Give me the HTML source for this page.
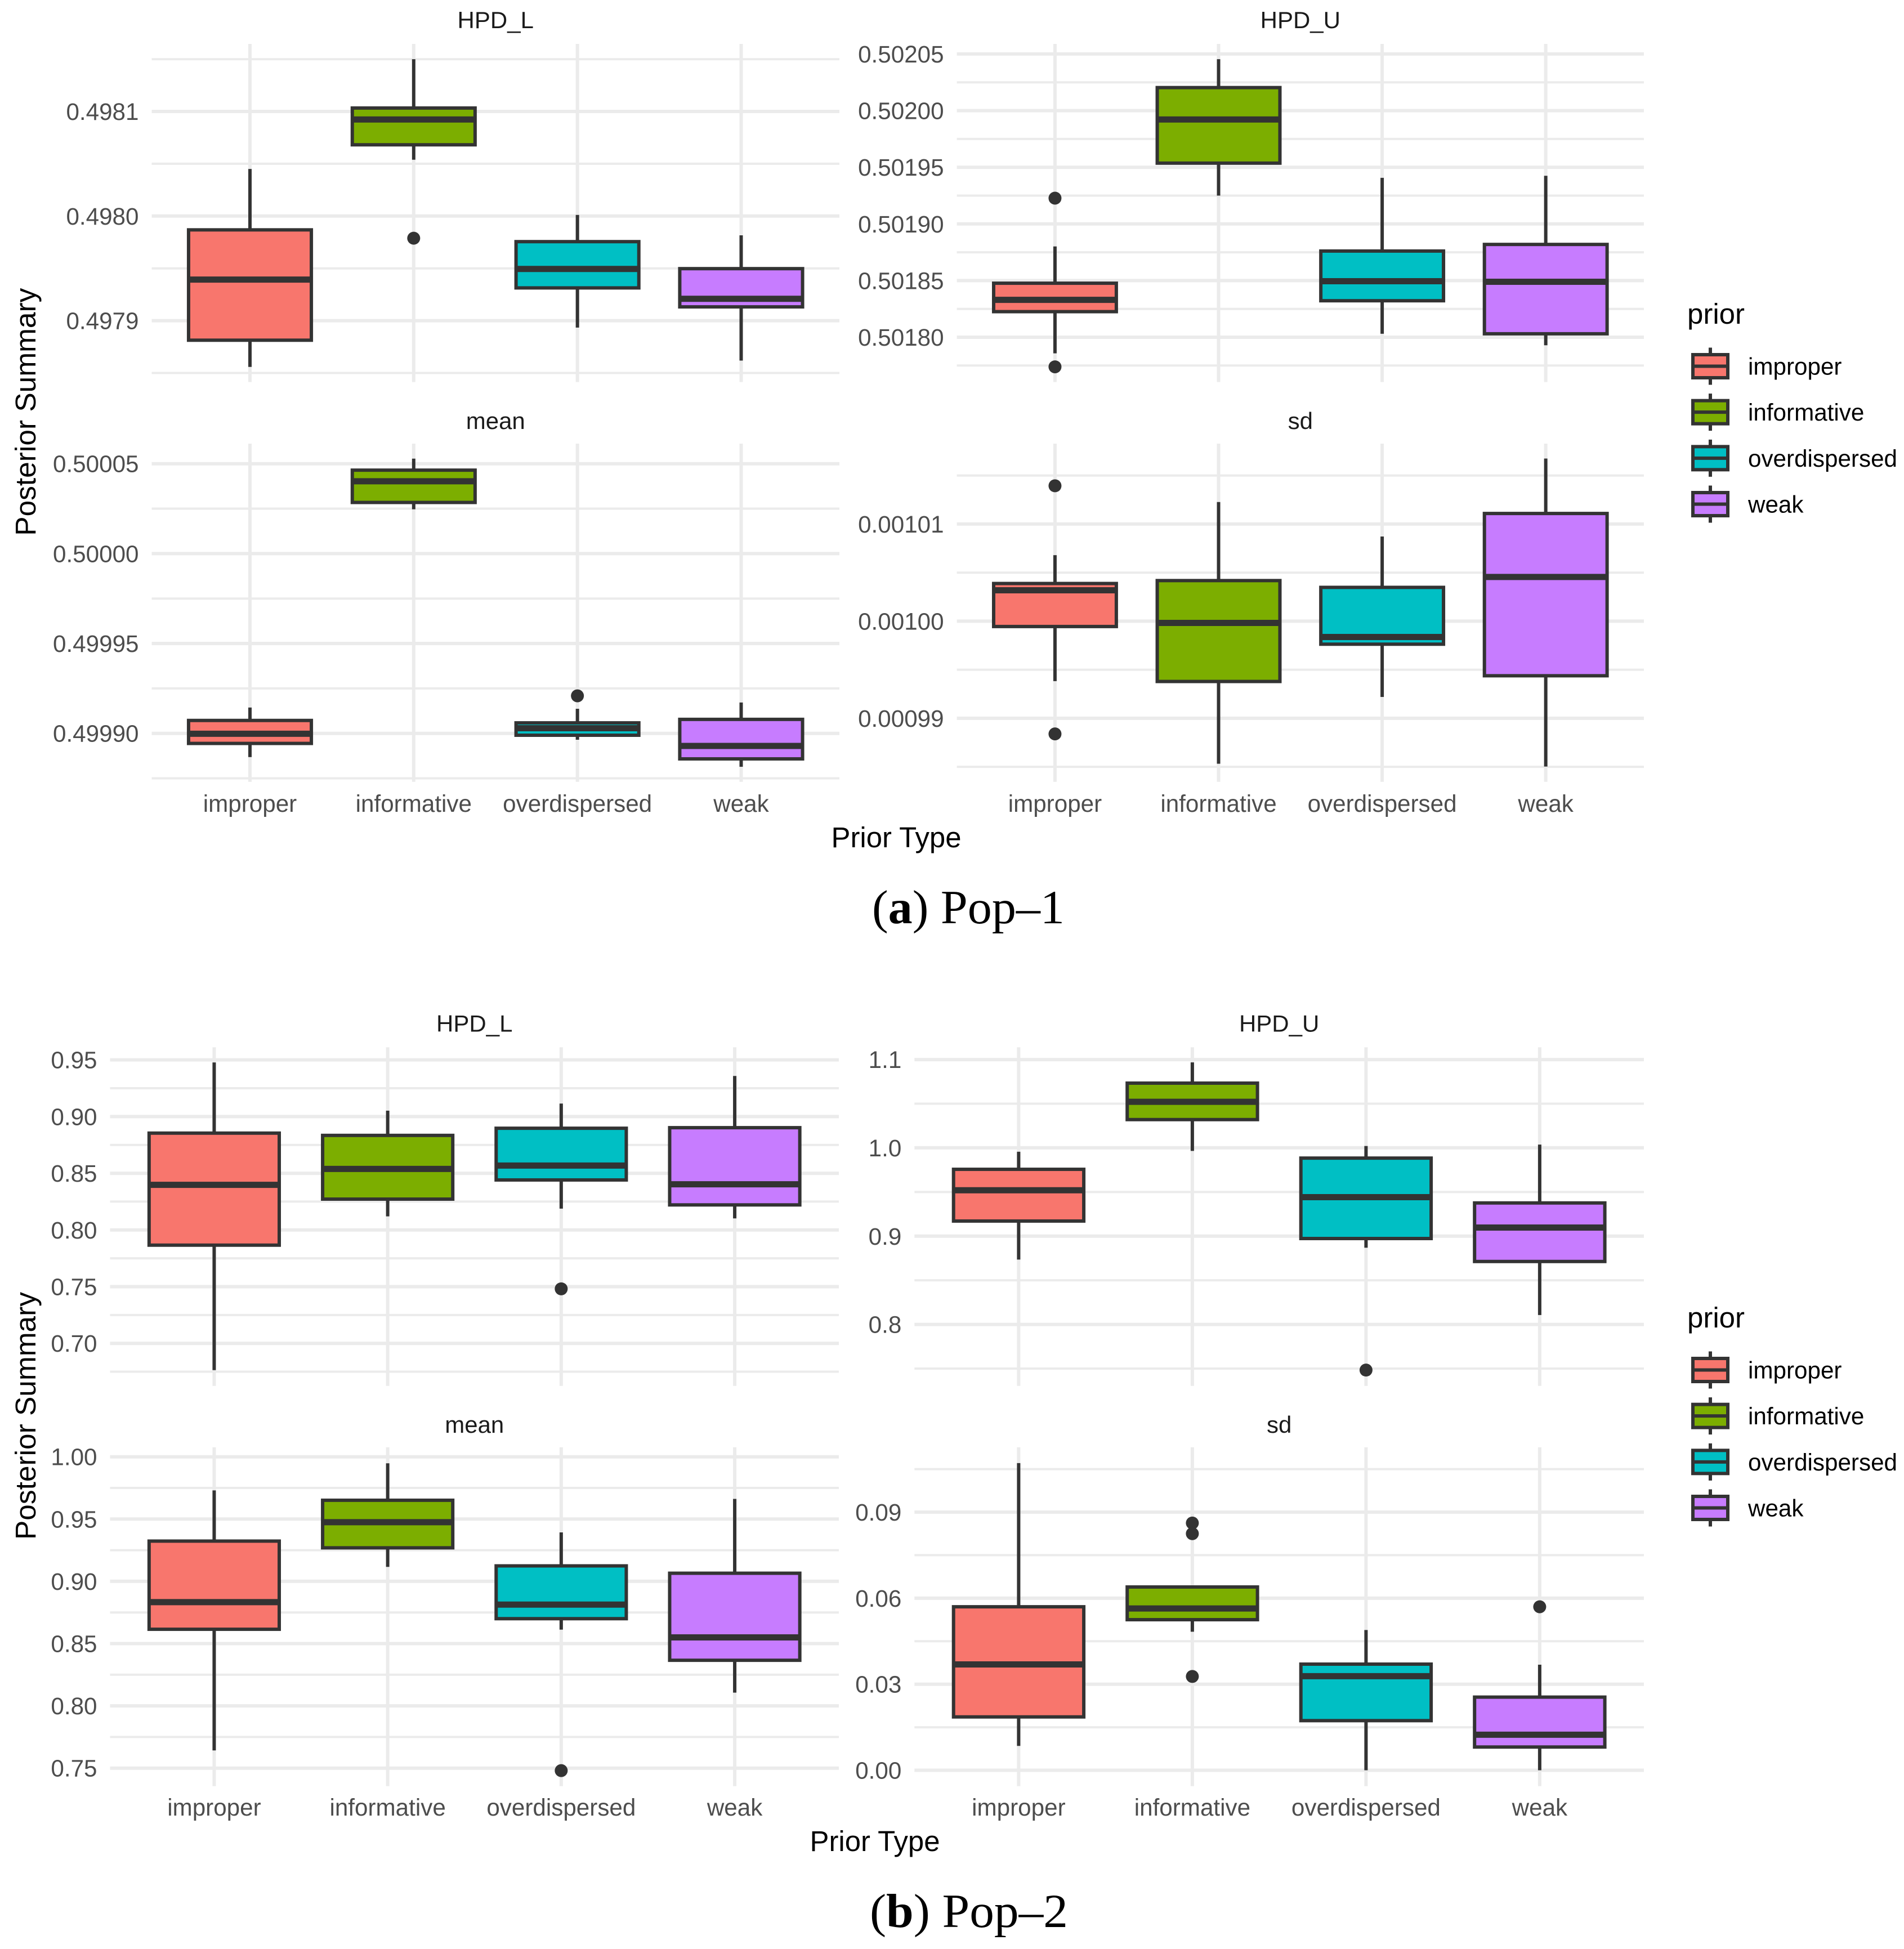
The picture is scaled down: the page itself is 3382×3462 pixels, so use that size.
<!DOCTYPE html>
<html lang="en">
<head>
<meta charset="utf-8">
<title>Posterior Summary by Prior Type</title>
<style>
html,body{margin:0;padding:0;background:#fff;}
svg{display:block;}
text{font-family:"Liberation Sans",sans-serif;}
.caption{font-family:"Liberation Serif",serif;font-size:85px;fill:#000;}
.axis-title{font-size:51px;fill:#000;}
</style>
</head>
<body>
<svg id="figure" xmlns="http://www.w3.org/2000/svg" width="3382" height="3462" viewBox="0 0 3382 3462">
  <rect x="0" y="0" width="3382" height="3462" fill="#ffffff"/>
  <g id="plot-layer"></g>
  <text class="axis-title" x="1592" y="1505" text-anchor="middle" textLength="231" lengthAdjust="spacingAndGlyphs">Prior Type</text>
  <text class="axis-title" transform="translate(63 731.7) rotate(-90)" text-anchor="middle" textLength="440" lengthAdjust="spacingAndGlyphs">Posterior Summary</text>
  <text class="axis-title" x="1554" y="3288" text-anchor="middle" textLength="231" lengthAdjust="spacingAndGlyphs">Prior Type</text>
  <text class="axis-title" transform="translate(63 2515) rotate(-90)" text-anchor="middle" textLength="440" lengthAdjust="spacingAndGlyphs">Posterior Summary</text>
  <text class="caption" x="1549" y="1640" textLength="342" lengthAdjust="spacingAndGlyphs">(<tspan font-weight="bold">a</tspan>) Pop–1</text>
  <text class="caption" x="1545" y="3423" textLength="352" lengthAdjust="spacingAndGlyphs">(<tspan font-weight="bold">b</tspan>) Pop–2</text>
</svg>
<script>
// ---------- categories and fills ----------
const categories = ['improper', 'informative', 'overdispersed', 'weak'];
const legendTitle = 'prior';

// ---------- Pop-1 HPD_L ----------
const p1HpdLTicks = [0.4981, 0.4980, 0.4979];
const p1HpdLTickLabels = ['0.4981', '0.4980', '0.4979'];
const p1HpdLUpper = [0.49804505, 0.49815000, 0.49800110, 0.49798159];
const p1HpdLQ3 = [0.49798681, 0.49810330, 0.49797555, 0.49794973];
const p1HpdLMedian = [0.49793929, 0.49809231, 0.49794945, 0.49792088];
const p1HpdLQ1 = [0.49788132, 0.49806813, 0.49793132, 0.49791319];
const p1HpdLLower = [0.49785577, 0.49805385, 0.49789341, 0.49786181];
const p1HpdLOutliers = [[], [0.49797885], [], []];

// ---------- Pop-1 HPD_U ----------
const p1HpdUTicks = [0.50205, 0.50200, 0.50195, 0.50190, 0.50185, 0.50180];
const p1HpdUTickLabels = ['0.50205', '0.50200', '0.50195', '0.50190', '0.50185', '0.50180'];
const p1HpdUUpper = [0.50188012, 0.50204544, 0.50194072, 0.50194250];
const p1HpdUQ3 = [0.50184767, 0.50202034, 0.50187606, 0.50188190];
const p1HpdUMedian = [0.50183296, 0.50199219, 0.50184944, 0.50184894];
const p1HpdUQ1 = [0.50182257, 0.50195365, 0.50183220, 0.50180304];
const p1HpdULower = [0.50178580, 0.50192500, 0.50180304, 0.50179290];
const p1HpdUOutliers = [[0.50192272, 0.50177388], [], [], []];

// ---------- Pop-1 mean ----------
const p1MeanTicks = [0.50005, 0.50000, 0.49995, 0.49990];
const p1MeanTickLabels = ['0.50005', '0.50000', '0.49995', '0.49990'];
const p1MeanUpper = [0.49991438, 0.50005282, 0.49991368, 0.49991718];
const p1MeanQ3 = [0.49990719, 0.50004642, 0.49990585, 0.49990779];
const p1MeanMedian = [0.49989980, 0.50004024, 0.49990288, 0.49989301];
const p1MeanQ1 = [0.49989441, 0.50002845, 0.49989897, 0.49988582];
const p1MeanLower = [0.49988682, 0.50002465, 0.49989646, 0.49988142];
const p1MeanOutliers = [[], [], [0.49992088], []];

// ---------- Pop-1 sd ----------
const p1SdTicks = [0.00101, 0.00100, 0.00099];
const p1SdTickLabels = ['0.00101', '0.00100', '0.00099'];
const p1SdUpper = [0.00100680, 0.00101227, 0.00100872, 0.00101675];
const p1SdQ3 = [0.00100388, 0.00100418, 0.00100348, 0.00101109];
const p1SdMedian = [0.00100318, 0.00099982, 0.00099837, 0.00100455];
const p1SdQ1 = [0.00099945, 0.00099379, 0.00099763, 0.00099438];
const p1SdLower = [0.00099383, 0.00098532, 0.00099220, 0.00098503];
const p1SdOutliers = [[0.00101394, 0.00098839], [], [], []];

// ---------- Pop-2 HPD_L ----------
const p2HpdLTicks = [0.95, 0.90, 0.85, 0.80, 0.75, 0.70];
const p2HpdLTickLabels = ['0.95', '0.90', '0.85', '0.80', '0.75', '0.70'];
const p2HpdLUpper = [0.9477, 0.9052, 0.9115, 0.9358];
const p2HpdLQ3 = [0.8854, 0.8834, 0.8897, 0.8902];
const p2HpdLMedian = [0.8398, 0.8538, 0.8568, 0.8403];
const p2HpdLQ1 = [0.7866, 0.8272, 0.8441, 0.8221];
const p2HpdLLower = [0.6764, 0.8120, 0.8188, 0.8102];
const p2HpdLOutliers = [[], [], [0.7481], []];

// ---------- Pop-2 HPD_U ----------
const p2HpdUTicks = [1.1, 1.0, 0.9, 0.8];
const p2HpdUTickLabels = ['1.1', '1.0', '0.9', '0.8'];
const p2HpdUUpper = [0.9956, 1.0968, 1.0021, 1.0037];
const p2HpdUQ3 = [0.9757, 1.0733, 0.9884, 0.9376];
const p2HpdUMedian = [0.9520, 1.0522, 0.9442, 0.9097];
const p2HpdUQ1 = [0.9171, 1.0320, 0.8973, 0.8713];
const p2HpdULower = [0.8735, 0.9965, 0.8869, 0.8107];
const p2HpdUOutliers = [[], [], [0.7483], []];

// ---------- Pop-2 mean ----------
const p2MeanTicks = [1.00, 0.95, 0.90, 0.85, 0.80, 0.75];
const p2MeanTickLabels = ['1.00', '0.95', '0.90', '0.85', '0.80', '0.75'];
const p2MeanUpper = [0.9730, 0.9948, 0.9393, 0.9662];
const p2MeanQ3 = [0.9323, 0.9651, 0.9124, 0.9065];
const p2MeanMedian = [0.8833, 0.9475, 0.8813, 0.8550];
const p2MeanQ1 = [0.8615, 0.9269, 0.8700, 0.8366];
const p2MeanLower = [0.7642, 0.9116, 0.8612, 0.8106];
const p2MeanOutliers = [[], [], [0.7480], []];

// ---------- Pop-2 sd ----------
const p2SdTicks = [0.09, 0.06, 0.03, 0.00];
const p2SdTickLabels = ['0.09', '0.06', '0.03', '0.00'];
const p2SdUpper = [0.1071, 0.0639, 0.0489, 0.0368];
const p2SdQ3 = [0.0570, 0.0639, 0.0370, 0.0255];
const p2SdMedian = [0.0369, 0.0564, 0.0328, 0.0124];
const p2SdQ1 = [0.0186, 0.0525, 0.0173, 0.0081];
const p2SdLower = [0.0085, 0.0483, 0.0000, 0.0000];
const p2SdOutliers = [[], [0.0862, 0.0825, 0.0327], [], [0.0570]];

const SVG_NS = 'http://www.w3.org/2000/svg';
const fills = ['#F8766D', '#7CAE00', '#00BFC4', '#C77CFF'];
const ink = '#333333';
const gridColor = '#EBEBEB';
const layer = document.getElementById('plot-layer');

function make(tag, parent, attrs) {
  const el = document.createElementNS(SVG_NS, tag);
  for (const k in attrs) el.setAttribute(k, attrs[k]);
  parent.appendChild(el);
  return el;
}

function drawPanel(o) {
  const prefix = o.id;
  const group = make('g', layer, {});
  
  

  const yScale = v => o.hiY + (v - o.hi) * (o.loY - o.hiY) / (o.lo - o.hi);
  const xScale = i => o.left + (o.right - o.left) * (i + 0.6) / (categories.length - 1 + 1.2);
  const boxW = 0.75 * (o.right - o.left) / (categories.length - 1 + 1.2);

  const title = make('text', group, {x: (o.left + o.right) / 2, y: o.titleY, 'text-anchor': 'middle', 'font-size': 42, fill: '#1A1A1A'});
  title.textContent = o.title;
  
  

  // minor horizontal grid
  const step = o.ticks[1] - o.ticks[0];
  for (let k = -1; k < o.ticks.length; k++) {
    const v = o.ticks[0] + (k + 0.5) * step;
    const y = yScale(v);
    if (y < o.top || y > o.bottom) continue;
    const line = make('line', group, {x1: o.left, x2: o.right, y1: y, y2: y, stroke: gridColor, 'stroke-width': 4});
    
    
  }
  // major horizontal grid and tick labels
  o.ticks.forEach((v, i) => {
    const y = yScale(v);
    const line = make('line', group, {x1: o.left, x2: o.right, y1: y, y2: y, stroke: gridColor, 'stroke-width': 6});
    
    
    const label = make('text', group, {x: o.left - 23, y: y + 15, 'text-anchor': 'end', 'font-size': 42.2, fill: '#4D4D4D'});
    label.textContent = o.tickLabels[i];
    
    
  });
  // vertical grid
  categories.forEach((c, i) => {
    const x = xScale(i);
    const line = make('line', group, {x1: x, x2: x, y1: o.top, y2: o.bottom, stroke: gridColor, 'stroke-width': 6});
    
    
  });
  // x tick labels
  if (o.xLabelY) {
    categories.forEach((c, i) => {
      const label = make('text', group, {x: xScale(i), y: o.xLabelY, 'text-anchor': 'middle', 'font-size': 42.2, fill: '#4D4D4D'});
      label.textContent = c;
      
      
    });
  }
  // boxes
  categories.forEach((c, i) => {
    const x = xScale(i);
    const box = make('g', group, {});
    
    

    const wHigh = make('line', box, {x1: x, x2: x, y1: yScale(o.upper[i]), y2: yScale(o.q3[i]), stroke: ink, 'stroke-width': 6});
    
    

    const wLow = make('line', box, {x1: x, x2: x, y1: yScale(o.q1[i]), y2: yScale(o.lower[i]), stroke: ink, 'stroke-width': 6});
    
    

    const rect = make('rect', box, {x: x - boxW / 2, y: yScale(o.q3[i]), width: boxW, height: yScale(o.q1[i]) - yScale(o.q3[i]), fill: fills[i], stroke: ink, 'stroke-width': 6});
    
    

    const med = make('line', box, {x1: x - boxW / 2, x2: x + boxW / 2, y1: yScale(o.median[i]), y2: yScale(o.median[i]), stroke: ink, 'stroke-width': 11});
    
    

    o.outliers[i].forEach(v => {
      const dot = make('circle', box, {cx: x, cy: yScale(v), r: 11.5, fill: ink});
      
      
    });
  });
}

function drawLegend(id, titleY, firstCenterY) {
  const group = make('g', layer, {});
  
  

  const title = make('text', group, {x: 2997, y: titleY, 'font-size': 51, fill: '#000'});
  title.textContent = legendTitle;
  
  

  categories.forEach((c, i) => {
    const cy = firstCenterY + i * 81.67;
    const entry = make('g', group, {});
    
    

    const whisker = make('line', entry, {x1: 3038, x2: 3038, y1: cy - 33, y2: cy + 33, stroke: ink, 'stroke-width': 6});
    
    

    const key = make('rect', entry, {x: 3007, y: cy - 20.5, width: 62, height: 41, fill: fills[i], stroke: ink, 'stroke-width': 6});
    
    

    const med = make('line', entry, {x1: 3007, x2: 3069, y1: cy, y2: cy, stroke: ink, 'stroke-width': 6});
    
    

    const label = make('text', entry, {x: 3105, y: cy + 15, 'font-size': 42.2, fill: '#000'});
    label.textContent = c;
    
    
  });
}

// Pop-1 layout
drawPanel({id: 'pop1-hpd-l', title: 'HPD_L', titleY: 50, left: 269.5, right: 1491, top: 78, bottom: 678.6,
  hi: 0.4981, hiY: 198, lo: 0.4979, loY: 569.6,
  ticks: p1HpdLTicks, tickLabels: p1HpdLTickLabels, upper: p1HpdLUpper, q3: p1HpdLQ3, median: p1HpdLMedian, q1: p1HpdLQ1, lower: p1HpdLLower, outliers: p1HpdLOutliers});
drawPanel({id: 'pop1-hpd-u', title: 'HPD_U', titleY: 50, left: 1699.6, right: 2920, top: 78, bottom: 678.6,
  hi: 0.50205, hiY: 95.9, lo: 0.5018, loY: 599,
  ticks: p1HpdUTicks, tickLabels: p1HpdUTickLabels, upper: p1HpdUUpper, q3: p1HpdUQ3, median: p1HpdUMedian, q1: p1HpdUQ1, lower: p1HpdULower, outliers: p1HpdUOutliers});
drawPanel({id: 'pop1-mean', title: 'mean', titleY: 762, left: 269.5, right: 1491, top: 788, bottom: 1388.8, xLabelY: 1442,
  hi: 0.50005, hiY: 823.7, lo: 0.4999, loY: 1302.7,
  ticks: p1MeanTicks, tickLabels: p1MeanTickLabels, upper: p1MeanUpper, q3: p1MeanQ3, median: p1MeanMedian, q1: p1MeanQ1, lower: p1MeanLower, outliers: p1MeanOutliers});
drawPanel({id: 'pop1-sd', title: 'sd', titleY: 762, left: 1699.6, right: 2920, top: 788, bottom: 1388.8, xLabelY: 1442,
  hi: 0.00101, hiY: 930.9, lo: 0.00099, loY: 1275.9,
  ticks: p1SdTicks, tickLabels: p1SdTickLabels, upper: p1SdUpper, q3: p1SdQ3, median: p1SdMedian, q1: p1SdQ1, lower: p1SdLower, outliers: p1SdOutliers});
drawLegend('pop1', 575, 650.5);

// Pop-2 layout
drawPanel({id: 'pop2-hpd-l', title: 'HPD_L', titleY: 1832.6, left: 195.5, right: 1490, top: 1860.2, bottom: 2461.7,
  hi: 0.95, hiY: 1882.65, lo: 0.70, loY: 2386.2,
  ticks: p2HpdLTicks, tickLabels: p2HpdLTickLabels, upper: p2HpdLUpper, q3: p2HpdLQ3, median: p2HpdLMedian, q1: p2HpdLQ1, lower: p2HpdLLower, outliers: p2HpdLOutliers});
drawPanel({id: 'pop2-hpd-u', title: 'HPD_U', titleY: 1832.6, left: 1624.3, right: 2920, top: 1860.2, bottom: 2461.7,
  hi: 1.1, hiY: 1882.1, lo: 0.8, loY: 2352.6,
  ticks: p2HpdUTicks, tickLabels: p2HpdUTickLabels, upper: p2HpdUUpper, q3: p2HpdUQ3, median: p2HpdUMedian, q1: p2HpdUQ1, lower: p2HpdULower, outliers: p2HpdUOutliers});
drawPanel({id: 'pop2-mean', title: 'mean', titleY: 2545, left: 195.5, right: 1490, top: 2570.8, bottom: 3172.7, xLabelY: 3225,
  hi: 1.0, hiY: 2587.7, lo: 0.75, loY: 3140.7,
  ticks: p2MeanTicks, tickLabels: p2MeanTickLabels, upper: p2MeanUpper, q3: p2MeanQ3, median: p2MeanMedian, q1: p2MeanQ1, lower: p2MeanLower, outliers: p2MeanOutliers});
drawPanel({id: 'pop2-sd', title: 'sd', titleY: 2545, left: 1624.3, right: 2920, top: 2570.8, bottom: 3172.7, xLabelY: 3225,
  hi: 0.09, hiY: 2686, lo: 0.0, loY: 3144.5,
  ticks: p2SdTicks, tickLabels: p2SdTickLabels, upper: p2SdUpper, q3: p2SdQ3, median: p2SdMedian, q1: p2SdQ1, lower: p2SdLower, outliers: p2SdOutliers});
drawLegend('pop2', 2358, 2433.5);
</script>
</body>
</html>
